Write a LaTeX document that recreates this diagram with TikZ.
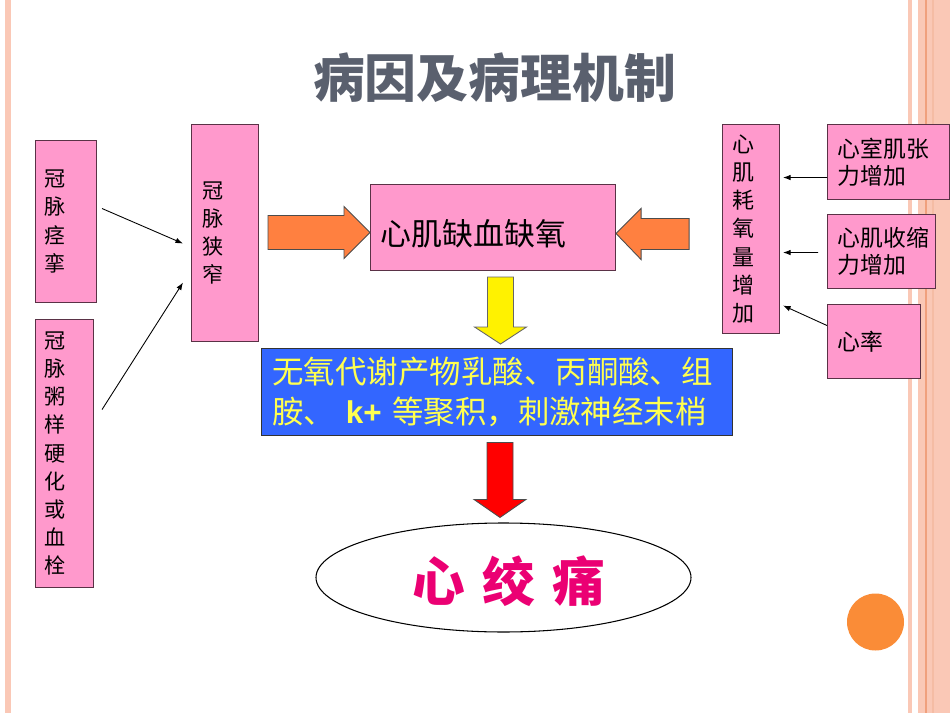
\documentclass[tikz,border=0pt]{standalone}
\usepackage{fontspec}
\setmainfont{Noto Sans CJK SC}
\newfontfamily\latinfont{Liberation Sans}
\usepackage{tikz}
\usetikzlibrary{shapes.geometric, arrows.meta, positioning, calc}

\newdimen\pxu \pxu=0.02cm

\definecolor{boxpink}{RGB}{255,153,204}
\definecolor{boxline}{RGB}{90,50,70}
\definecolor{bluebox}{RGB}{51,102,255}
\definecolor{textyellow}{RGB}{255,255,80}
\definecolor{titlegray}{RGB}{90,96,110}
\definecolor{arroworange}{RGB}{255,128,64}
\definecolor{dotorange}{RGB}{250,140,55}
\definecolor{painred}{RGB}{235,0,115}
\definecolor{edgepink}{RGB}{250,200,182}
\definecolor{edgeline}{RGB}{240,160,125}

\begin{document}
\begin{tikzpicture}[x=0.02cm, y=-0.02cm,
    pinkbox/.style={draw=boxline, fill=boxpink, line width=0.6pt, anchor=north west,
        align=left, inner ysep=0pt},
    vtext/.style={font=\fontsize{12}{16}\selectfont},
    htext/.style={font=\fontsize{13}{15.5}\selectfont},
    thinarrow/.style={-{Latex[length=1.5mm,width=1.1mm]}, line width=0.5pt},
    fatarrow/.style={line width=0.5pt, line join=miter}
]
\useasboundingbox (0,0) rectangle (950,713);
\fill[white] (0,0) rectangle (950,713);

% slide edges
\fill[edgepink] (5,0) rectangle (11,713);
\fill[edgepink] (908,0) rectangle (912,713);
\fill[edgepink] (918,0) rectangle (950,713);
\draw[edgeline, line width=0.6pt] (926,0) -- (926,713);
\draw[edgeline!70, line width=0.6pt] (933,0) -- (933,713);
\fill[dotorange] (875.5,622) circle (28.5);

\node[font=\bfseries\fontsize{29.5}{32}\selectfont, text=titlegray] (title) at (494.5,78) {病因及病理机制};

% causes
\node[pinkbox, vtext, inner xsep=9\pxu, minimum width=61\pxu, minimum height=162\pxu, text width=43\pxu] (spasm) at (35,140) {冠\\脉\\痉\\挛};
\node[pinkbox, vtext, inner xsep=9\pxu, minimum width=58\pxu, minimum height=268\pxu, text width=40\pxu] (athero) at (35,319) {冠\\脉\\粥\\样\\硬\\化\\或\\血\\栓};
\node[pinkbox, vtext, inner xsep=11\pxu, minimum width=67\pxu, minimum height=217\pxu, text width=45\pxu] (narrow) at (191,124) {冠\\脉\\狭\\窄};

\node[pinkbox, font=\fontsize{17.6}{20}\selectfont, inner xsep=10\pxu, minimum width=245\pxu, minimum height=86\pxu, text width=225\pxu, text height=36\pxu, text depth=0pt] (ischemia) at (370,184) {心肌缺血缺氧};

\node[pinkbox, font=\fontsize{12.5}{16}\selectfont, inner xsep=10\pxu, minimum width=57\pxu, minimum height=209\pxu, text width=37\pxu] (oxygen) at (722,124) {心\\肌\\耗\\氧\\量\\增\\加};
\node[pinkbox, htext, inner xsep=10\pxu, minimum width=122\pxu, minimum height=75\pxu, text width=102\pxu] (tension) at (827,124) {心室肌张\\力增加};
\node[pinkbox, htext, inner xsep=10\pxu, minimum width=108\pxu, minimum height=74\pxu, text width=88\pxu] (contract) at (827,214) {心肌收缩\\力增加};
\node[pinkbox, htext, inner xsep=10\pxu, minimum width=93\pxu, minimum height=74\pxu, text width=73\pxu] (rate) at (827,304) {心率};

\node[pinkbox, fill=bluebox, draw=black!80, text=textyellow, font=\fontsize{17.9}{22.8}\selectfont, inner xsep=11\pxu, minimum width=471\pxu, minimum height=87\pxu, text width=449\pxu] (metab) at (261,348) {无氧代谢产物乳酸、丙酮酸、组\\胺、 {\latinfont\bfseries k+} 等聚积，刺激神经末梢};

\node[draw, ellipse, line width=0.6pt, minimum width=375\pxu, minimum height=109\pxu, inner sep=0pt, text=painred, font=\bfseries\fontsize{30}{32}\selectfont, text height=48\pxu, text depth=0pt] (pain) at (503.5,577.5) {\hspace{6pt}心\hspace{10pt}绞\hspace{10pt}痛};

% thin arrows
\draw[thinarrow] ($(spasm.east)+(5,-13)$) -- ($(narrow.west)+(-8,10.5)$);
\draw[thinarrow] ($(athero.east)+(8,-44)$) -- ($(narrow.west)+(-8,49.5)$);
\draw[thinarrow] ($(tension.west)+(0,15.5)$) -- ($(oxygen.east)+(3,-51.5)$);
\draw[thinarrow] ($(contract.west)+(-9,1)$) -- ($(oxygen.east)+(3,23.5)$);
\draw[thinarrow] ($(rate.west)+(0,-16)$) -- ($(oxygen.east)+(3,76.5)$);

% block arrows
\draw[fatarrow, fill=arroworange, draw=black!70] ($(ischemia.west)+(0,5)$) -- ++(-26,-26) -- ++(0,9) -- ++(-76,0) -- ++(0,34) -- ++(76,0) -- ++(0,9) -- cycle;
\draw[fatarrow, fill=arroworange, draw=black!70] ($(ischemia.east)+(0,6)$) -- ++(25,-25) -- ++(0,10) -- ++(48,0) -- ++(0,31) -- ++(-48,0) -- ++(0,10) -- cycle;
\draw[fatarrow, fill=yellow, draw=black!60] ($(metab.north)+(3.5,-4)$) -- ++(-26,-17) -- ++(13,0) -- ++(0,-50) -- ++(26,0) -- ++(0,50) -- ++(13,0) -- cycle;
\draw[fatarrow, fill=red, draw=black!70] ($(pain.north)+(-3.5,-5)$) -- ++(-26,-18) -- ++(13,0) -- ++(0,-57) -- ++(26,0) -- ++(0,57) -- ++(13,0) -- cycle;
\end{tikzpicture}
\end{document}
